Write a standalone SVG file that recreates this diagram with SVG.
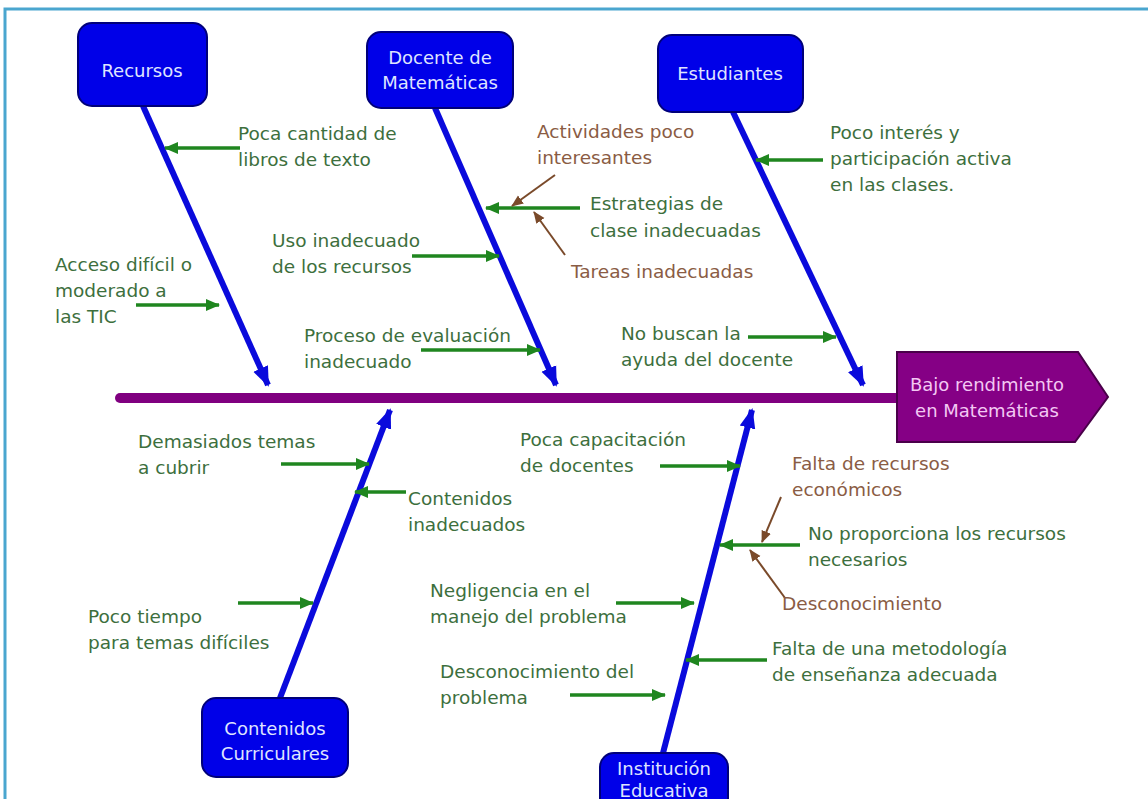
<svg xmlns="http://www.w3.org/2000/svg" width="1148" height="799" viewBox="0 0 1148 799">
<defs>
<style>
.bg{fill:#ffffff}
.frame{stroke:#4aa6cf;stroke-width:3;fill:none}
.box rect{fill:#0000e8;stroke:#00007a;stroke-width:2}
.box text{fill:#dfe4ff;font-family:"DejaVu Sans",Verdana,sans-serif;font-size:18px;text-anchor:middle}
.eff path{fill:#850085;stroke:#4a004a;stroke-width:2}
.eff text{fill:#f3c8f3;font-family:"DejaVu Sans",Verdana,sans-serif;font-size:18px;text-anchor:middle}
.g{fill:#3d6f3d;font-family:"DejaVu Sans",Verdana,sans-serif;font-size:18.5px}
.b{fill:#8a5c44;font-family:"DejaVu Sans",Verdana,sans-serif;font-size:18.5px}
.bone{stroke:#0a0adc;stroke-width:6;fill:none;marker-end:url(#mb)}
.ga{stroke:#1f861f;stroke-width:3.5;fill:none;marker-end:url(#mg)}
.ba{stroke:#7a4a2a;stroke-width:2;fill:none;marker-end:url(#mr)}
.spine{stroke:#800080;stroke-width:10;stroke-linecap:round;fill:none}
</style>
<marker id="mb" markerUnits="userSpaceOnUse" markerWidth="20" markerHeight="20" viewBox="0 0 20 20" refX="18" refY="10" orient="auto"><path d="M0,2 L20,10 L0,18 Z" fill="#0a0adc"/></marker>
<marker id="mg" markerUnits="userSpaceOnUse" markerWidth="14" markerHeight="14" viewBox="0 0 14 14" refX="13" refY="7" orient="auto"><path d="M0,1 L14,7 L0,13 Z" fill="#1f861f"/></marker>
<marker id="mr" markerUnits="userSpaceOnUse" markerWidth="12" markerHeight="12" viewBox="0 0 12 12" refX="11" refY="6" orient="auto"><path d="M0,1 L12,6 L0,11 Z" fill="#7a4a2a"/></marker>
</defs>
<rect class="bg" x="0" y="0" width="1148" height="799"/>
<path class="frame" d="M5,799 L5,9 L1148,9"/>

<g id="connectors">
<line class="spine" x1="120" y1="398" x2="898" y2="398"/>
<line class="bone" x1="143" y1="106" x2="268" y2="385"/>
<line class="bone" x1="435" y1="108" x2="556" y2="385"/>
<line class="bone" x1="733" y1="112" x2="863" y2="385"/>
<line class="bone" x1="280" y1="698" x2="390" y2="410"/>
<line class="bone" x1="663" y1="753" x2="752" y2="410"/>

<line class="ga" x1="240" y1="148" x2="165" y2="148"/>
<line class="ga" x1="136" y1="305" x2="219" y2="305"/>
<line class="ga" x1="412" y1="256" x2="499" y2="256"/>
<line class="ga" x1="421" y1="350" x2="540" y2="350"/>
<line class="ga" x1="580" y1="208" x2="486" y2="208"/>
<line class="ga" x1="823" y1="160" x2="756" y2="160"/>
<line class="ga" x1="748" y1="337" x2="836" y2="337"/>
<line class="ga" x1="281" y1="464" x2="369" y2="464"/>
<line class="ga" x1="406" y1="492" x2="355" y2="492"/>
<line class="ga" x1="238" y1="603" x2="313" y2="603"/>
<line class="ga" x1="660" y1="466" x2="740" y2="466"/>
<line class="ga" x1="616" y1="603" x2="694" y2="603"/>
<line class="ga" x1="570" y1="695" x2="665" y2="695"/>
<line class="ga" x1="800" y1="545" x2="720" y2="545"/>
<line class="ga" x1="767" y1="660" x2="686" y2="660"/>

<line class="ba" x1="555" y1="175" x2="512" y2="206"/>
<line class="ba" x1="565" y1="255" x2="534" y2="212"/>
<line class="ba" x1="781" y1="497" x2="762" y2="542"/>
<line class="ba" x1="785" y1="598" x2="750" y2="550"/>
</g>

<g id="recursos" class="box"><rect x="78" y="23" width="129" height="83" rx="14"/><text x="142" y="77">Recursos</text></g>
<g id="docente" class="box"><rect x="367" y="32" width="146" height="76" rx="14"/><text x="440" y="64">Docente de</text><text x="440" y="89">Matemáticas</text></g>
<g id="estudiantes" class="box"><rect x="658" y="35" width="145" height="77" rx="14"/><text x="730" y="80">Estudiantes</text></g>
<g id="contenidos" class="box"><rect x="202" y="698" width="146" height="79" rx="14"/><text x="275" y="735">Contenidos</text><text x="275" y="760">Curriculares</text></g>
<g id="institucion" class="box"><rect x="600" y="753" width="128" height="60" rx="14"/><text x="664" y="775">Institución</text><text x="664" y="797">Educativa</text></g>
<g id="efecto" class="eff"><path d="M897,352 L1078,352 L1108,397 L1075,442 L897,442 Z"/><text x="987" y="391">Bajo rendimiento</text><text x="987" y="417">en Matemáticas</text></g>

<g id="c-libros"><text class="g" x="238" y="140">Poca cantidad de</text><text class="g" x="238" y="166">libros de texto</text></g>
<g id="c-tic"><text class="g" x="55" y="271">Acceso difícil o</text><text class="g" x="55" y="297">moderado a</text><text class="g" x="55" y="323">las TIC</text></g>
<g id="c-uso"><text class="g" x="272" y="247">Uso inadecuado</text><text class="g" x="272" y="273">de los recursos</text></g>
<g id="c-eval"><text class="g" x="304" y="342">Proceso de evaluación</text><text class="g" x="304" y="368">inadecuado</text></g>
<g id="c-estrategias"><text class="g" x="590" y="210">Estrategias de</text><text class="g" x="590" y="237">clase inadecuadas</text></g>
<g id="c-actividades"><text class="b" x="537" y="138">Actividades poco</text><text class="b" x="537" y="164">interesantes</text></g>
<g id="c-tareas"><text class="b" x="571" y="278">Tareas inadecuadas</text></g>
<g id="c-interes"><text class="g" x="830" y="139">Poco interés y</text><text class="g" x="830" y="165">participación activa</text><text class="g" x="830" y="191">en las clases.</text></g>
<g id="c-ayuda"><text class="g" x="621" y="340">No buscan la</text><text class="g" x="621" y="366">ayuda del docente</text></g>
<g id="c-temas"><text class="g" x="138" y="448">Demasiados temas</text><text class="g" x="138" y="474">a cubrir</text></g>
<g id="c-contenidos"><text class="g" x="408" y="505">Contenidos</text><text class="g" x="408" y="531">inadecuados</text></g>
<g id="c-tiempo"><text class="g" x="88" y="623">Poco tiempo</text><text class="g" x="88" y="649">para temas difíciles</text></g>
<g id="c-capacitacion"><text class="g" x="520" y="446">Poca capacitación</text><text class="g" x="520" y="472">de docentes</text></g>
<g id="c-negligencia"><text class="g" x="430" y="597">Negligencia en el</text><text class="g" x="430" y="623">manejo del problema</text></g>
<g id="c-desconoc-prob"><text class="g" x="440" y="678">Desconocimiento del</text><text class="g" x="440" y="704">problema</text></g>
<g id="c-proporciona"><text class="g" x="808" y="540">No proporciona los recursos</text><text class="g" x="808" y="566">necesarios</text></g>
<g id="c-economicos"><text class="b" x="792" y="470">Falta de recursos</text><text class="b" x="792" y="496">económicos</text></g>
<g id="c-desconoc"><text class="b" x="782" y="610">Desconocimiento</text></g>
<g id="c-metodologia"><text class="g" x="772" y="655">Falta de una metodología</text><text class="g" x="772" y="681">de enseñanza adecuada</text></g>
</svg>
